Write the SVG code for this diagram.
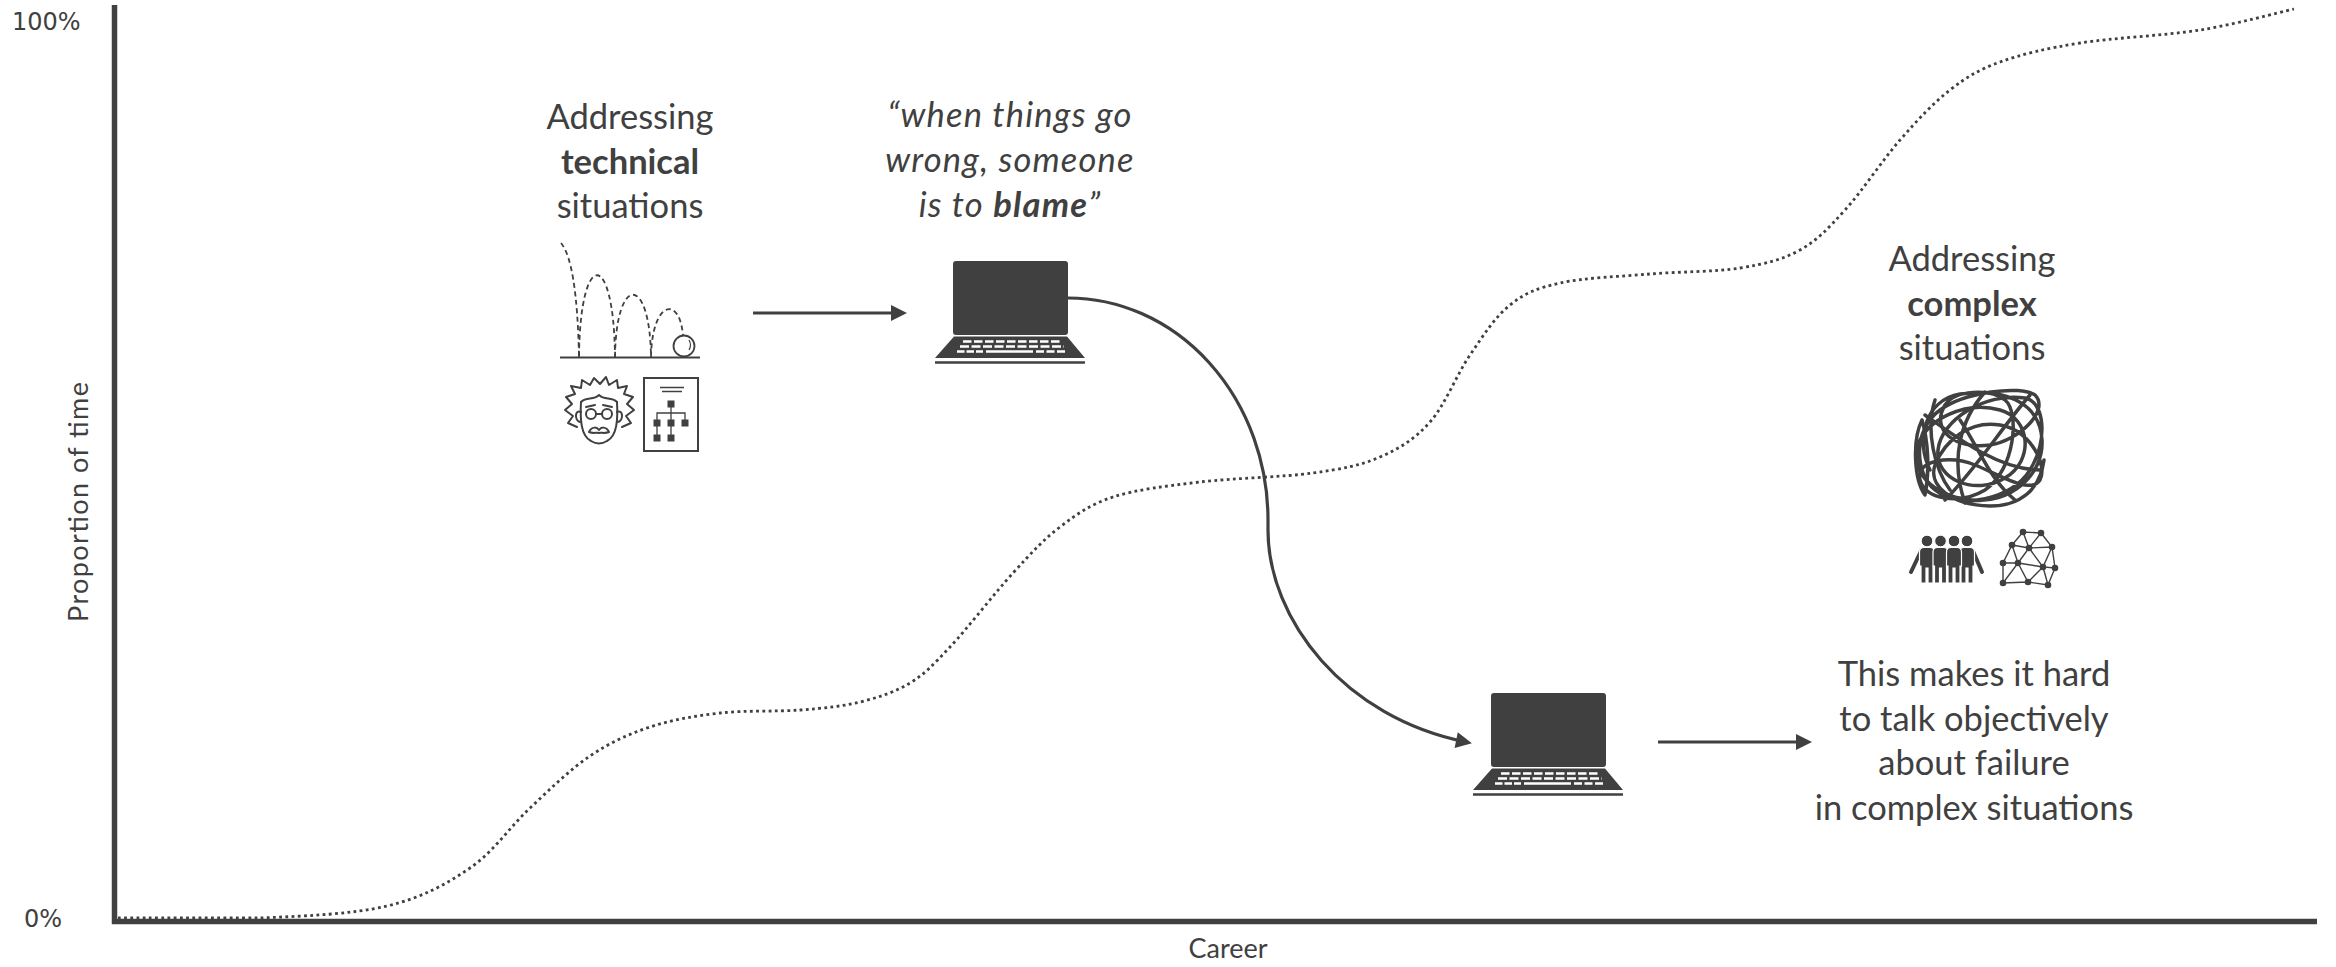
<svg xmlns="http://www.w3.org/2000/svg" xmlns:xlink="http://www.w3.org/1999/xlink" width="2336" height="967" viewBox="0 0 2336 967">
  <style>
    .lbl { font-family: Lato, "Open Sans", "Liberation Sans", sans-serif; fill: #404040; text-anchor: middle; }
    .big { font-size: 34.5px; }
    .quote { font-style: italic; letter-spacing: 1.2px; }
    .axislbl { font-size: 27px; }
    .pct { font-family: "DejaVu Sans", "Liberation Sans", sans-serif; font-size: 24px; fill: #404040; }
    .axis { fill: none; stroke: #404040; stroke-width: 5.5; stroke-linejoin: miter; }
    .trend { fill: none; stroke: #404040; stroke-width: 2.8; stroke-dasharray: 2.8 3.4; }
    .conn { fill: none; stroke: #404040; stroke-width: 3.2; }
    .ink { fill: none; stroke: #404040; stroke-width: 2; stroke-linecap: round; stroke-linejoin: round; }
    .dash { fill: none; stroke: #404040; stroke-width: 1.8; stroke-dasharray: 5 3.5; }
    .solid { fill: #404040; }
    .keys { fill: none; stroke: #ffffff; stroke-width: 2.6; }
  </style>
  <defs>
    <marker id="head" markerUnits="userSpaceOnUse" markerWidth="17" markerHeight="17" refX="10" refY="8" orient="auto" overflow="visible">
      <path d="M0,0 L16,8 L0,16 Z" fill="#404040"/>
    </marker>
    <!-- laptop: origin at top-left corner of the screen -->
    <g id="laptop">
      <rect x="0" y="0" width="115" height="74" rx="3" class="solid"/>
      <path d="M1,75.5 L114,75.5 L132,97 L-18,97 Z" class="solid"/>
      <line x1="-18" y1="101.5" x2="132" y2="101.5" stroke="#404040" stroke-width="2.5"/>
      <line x1="10" y1="80.5" x2="108" y2="80.5" class="keys" stroke-dasharray="8.5 2.5"/>
      <line x1="7" y1="85.5" x2="111" y2="85.5" class="keys" stroke-dasharray="9 2.5"/>
      <line x1="4" y1="90.5" x2="30" y2="90.5" class="keys" stroke-dasharray="7.5 2"/>
      <line x1="33" y1="90.5" x2="80" y2="90.5" class="keys"/>
      <line x1="83" y1="90.5" x2="113" y2="90.5" class="keys" stroke-dasharray="8 2.5"/>
    </g>
    <!-- standing figure: origin at head centre -->
    <g id="person">
      <circle cx="0" cy="0" r="5.8" class="solid" stroke="#fff" stroke-width="1"/>
      <path d="M-7.5,11 Q-7.5,6.5 -3,6.5 L3,6.5 Q7.5,6.5 7.5,11 L7.5,25 L6,25 L6,42 L1,42 L1,27 L-1,27 L-1,42 L-6,42 L-6,25 L-7.5,25 Z" class="solid" stroke="#fff" stroke-width="1.2"/>
    </g>
  </defs>

  <rect width="2336" height="967" fill="#ffffff"/>

  <!-- chart frame -->
  <g id="axes">
    <path class="axis" d="M114.5,5 V921.5 H2317"/>
    <text class="pct" x="12" y="30">100%</text>
    <text class="pct" x="24" y="927">0%</text>
    <text class="lbl axislbl" x="1228" y="958">Career</text>
    <text class="lbl axislbl" font-size="29px" transform="translate(88,502) rotate(-90)" x="0" y="0" textLength="240" lengthAdjust="spacing">Proportion of time</text>
  </g>

  <!-- share of time spent on complex situations over a career -->
  <g id="trend-curve">
    <path class="trend" d="M118,918 C141.7,918 215,918 260,918 C304.8,916 352,914.3 387,906 C422,897.7 446.2,884.3 470,868 C493.8,851.7 510,826.7 530,808 C550,789.3 570,769.5 590,756 C610,742.5 628.3,734.2 650,727 C671.7,719.8 695,715.8 720,713 C745,710.2 776.7,711.8 800,710 C823.3,708.2 841.7,706.5 860,702 C878.3,697.5 895,692.2 910,683 C925,673.8 932.8,665.3 950,647 C967.2,628.7 994.7,593 1013,573 C1031.3,553 1043.3,539.7 1060,527 C1076.7,514.3 1089.7,504.5 1113,497 C1136.3,489.5 1166.7,486 1200,482 C1233.3,478 1283,477.2 1313,473 C1343,468.8 1360.5,465.5 1380,457 C1399.5,448.5 1415,439 1430,422 C1445,405 1456.7,374.5 1470,355 C1483.3,335.5 1495,317 1510,305 C1525,293 1536.7,288.2 1560,283 C1583.3,277.8 1620,276.5 1650,274 C1680,271.5 1715,272 1740,268 C1765,264 1782.5,259.7 1800,250 C1817.5,240.3 1828.3,228.3 1845,210 C1861.7,191.7 1882.5,160 1900,140 C1917.5,120 1933.3,103 1950,90 C1966.7,77 1978.3,69.8 2000,62 C2021.7,54.2 2046.7,48.3 2080,43 C2113.3,37.7 2164.3,35.7 2200,30 C2235.7,24.3 2278.3,12.5 2294,9"/>
  </g>

  <g id="technical-situations">
    <text class="lbl big" x="630" y="129">Addressing</text>
    <text class="lbl big" x="630" y="174" font-weight="bold">technical</text>
    <text class="lbl big" x="630" y="218">situations</text>
  </g>

  <g id="icon-bouncing-ball">
    <path class="dash" d="M561,243 Q577,262 579,357"/>
    <path class="dash" d="M579,357 C580,248 614,248 615,357"/>
    <path class="dash" d="M615,357 C616,274 650,274 651,357"/>
    <path class="dash" d="M651,357 C652,300 680,295 683,336"/>
    <line x1="560" y1="357.5" x2="700" y2="357.5" stroke="#404040" stroke-width="1.8"/>
    <circle cx="684" cy="346" r="10.5" fill="#fff" stroke="#404040" stroke-width="1.8"/>
    <path d="M689,340 Q692,345 689,350" fill="none" stroke="#404040" stroke-width="1.2"/>
  </g>

  <g id="icon-scientist">
    <path class="ink" d="M577,427 L568,423 L573,416 L565,410 L572,404 L566,397 L575,394 L571,386 L581,388 L582,380 L590,385 L594,378 L600,384 L606,377 L609,385 L617,380 L618,388 L627,386 L624,394 L633,397 L627,404 L634,410 L626,416 L631,423 L622,427"/>
    <path class="ink" d="M581,402 C580,420 581,436 591,441 C596,444 602,444 607,441 C617,436 618,420 617,402"/>
    <path class="ink" d="M581,402 C587,396 593,401 599,395 C605,401 611,396 617,402"/>
    <path class="ink" d="M581,412 C575,409 574,420 580,422 M617,412 C623,409 624,420 618,422"/>
    <circle cx="591" cy="414" r="5" class="ink"/>
    <circle cx="607" cy="414" r="5" class="ink"/>
    <path class="ink" d="M596,414 L602,414 M586,407 L595,405 M603,405 L612,407"/>
    <path class="ink" d="M589,432 C592,426 597,427 599,430 C601,427 606,426 609,432 C604,434 601,432 599,433 C597,432 594,434 589,432 Z"/>
  </g>

  <g id="icon-diagram-sheet">
    <rect x="644" y="378" width="54" height="73" fill="none" stroke="#404040" stroke-width="2"/>
    <path d="M660,387.5 H684 M662,391.5 H682" stroke="#404040" stroke-width="1.5"/>
    <path d="M671,404 V413 M657,423 V413 H685 V423 M671,413 V438 M657,423 V438" fill="none" stroke="#404040" stroke-width="1.3"/>
    <rect x="667.5" y="400.5" width="7" height="7" class="solid"/>
    <rect x="653.5" y="419.5" width="7" height="7" class="solid"/>
    <rect x="667.5" y="419.5" width="7" height="7" class="solid"/>
    <rect x="681.5" y="419.5" width="7" height="7" class="solid"/>
    <rect x="653.5" y="434.5" width="7" height="7" class="solid"/>
    <rect x="667.5" y="434.5" width="7" height="7" class="solid"/>
  </g>

  <g id="blame-quote">
    <text class="lbl big quote" x="1010" y="127">“when things go</text>
    <text class="lbl big quote" x="1010" y="172">wrong, someone</text>
    <text class="lbl big quote" x="1010" y="217">is to <tspan font-weight="bold">blame</tspan>”</text>
  </g>

  <g id="laptop-blame">
    <use xlink:href="#laptop" transform="translate(953,261)"/>
  </g>

  <g id="laptop-failure">
    <use xlink:href="#laptop" transform="translate(1491,693)"/>
  </g>

  <g id="complex-situations">
    <text class="lbl big" x="1972" y="271">Addressing</text>
    <text class="lbl big" x="1972" y="315.5" font-weight="bold">complex</text>
    <text class="lbl big" x="1972" y="360">situations</text>
  </g>

  <g id="icon-tangle" fill="none" stroke="#404040" stroke-width="3.5" stroke-linecap="round" stroke-linejoin="round">
    <path d="M1930,470 C1915,440 1925,400 1960,394 C2000,388 2040,400 2042,440 C2044,475 2010,505 1970,500 C1930,495 1910,470 1918,445 C1926,420 1965,400 2000,410 C2030,418 2035,460 2005,478 C1975,496 1935,480 1938,450 C1941,420 1985,392 2025,398 C2045,402 2048,440 2030,470 C2012,500 1960,510 1935,490 C1915,474 1912,430 1940,410 C1965,392 2020,385 2035,395 C2050,410 2020,440 1990,445 C1955,450 1930,430 1945,405 C1955,390 1990,388 2005,400 C2020,412 2015,470 1985,490 C1960,505 1925,500 1920,480 C1915,460 1950,455 1975,465 C2000,475 2030,495 2040,480 C2048,465 2030,430 2000,425 C1970,420 1945,440 1935,465 C1928,485 1950,505 1990,506 C2020,506 2040,490 2044,460"/>
    <path d="M1922,420 C1912,440 1914,480 1925,495 C1930,470 1928,440 1922,420 M1935,400 C1925,430 1935,470 1950,490 M1960,420 C1980,450 1990,480 2015,500 M1945,500 C1975,470 2000,430 2030,395 M1925,415 C1960,440 2000,470 2040,470 M1985,392 C1960,420 1950,460 1965,503"/>
  </g>

  <g id="icon-team">
    <path d="M1921,551 L1911,572 M1973,551 L1982,572" stroke="#404040" stroke-width="4" stroke-linecap="round"/>
    <use xlink:href="#person" transform="translate(1927,541)"/>
    <use xlink:href="#person" transform="translate(1967,541)"/>
    <use xlink:href="#person" transform="translate(1940.5,541)"/>
    <use xlink:href="#person" transform="translate(1954,541)"/>
  </g>

  <g id="icon-network" stroke="#404040" stroke-width="1.4" fill="#404040">
    <path fill="none" d="M2023,532 L2041,533 L2052,547 L2055,568 L2048,585 L2028,582 L2003,583 L2003,563 L2012,545 Z M2023,532 L2029,548 L2041,533 M2012,545 L2029,548 L2052,547 M2029,548 L2018,563 L2012,545 M2003,563 L2018,563 L2043,567 L2029,548 M2052,547 L2043,567 L2055,568 M2043,567 L2048,585 M2018,563 L2028,582 L2043,567 M2003,583 L2018,563"/>
    <circle cx="2023" cy="532" r="2.6"/>
    <circle cx="2041" cy="533" r="2.6"/>
    <circle cx="2012" cy="545" r="2.6"/>
    <circle cx="2029" cy="548" r="2.6"/>
    <circle cx="2052" cy="547" r="2.6"/>
    <circle cx="2018" cy="563" r="2.6"/>
    <circle cx="2003" cy="563" r="2.6"/>
    <circle cx="2043" cy="567" r="2.6"/>
    <circle cx="2055" cy="568" r="2.6"/>
    <circle cx="2003" cy="583" r="2.6"/>
    <circle cx="2028" cy="582" r="2.6"/>
    <circle cx="2048" cy="585" r="2.6"/>
  </g>

  <g id="failure-note">
    <text class="lbl big" x="1974" y="686">This makes it hard</text>
    <text class="lbl big" x="1974" y="730.5">to talk objectively</text>
    <text class="lbl big" x="1974" y="775">about failure</text>
    <text class="lbl big" x="1974" y="819.5">in complex situations</text>
  </g>

  <g id="connectors">
    <line class="conn" x1="753" y1="313" x2="901" y2="313" marker-end="url(#head)"/>
    <path class="conn" d="M1068,298 A200,222 0 0 1 1268,520 L1268,530 C1268,620 1345,718 1466,742" marker-end="url(#head)"/>
    <line class="conn" x1="1658" y1="742" x2="1806" y2="742" marker-end="url(#head)"/>
  </g>
</svg>
